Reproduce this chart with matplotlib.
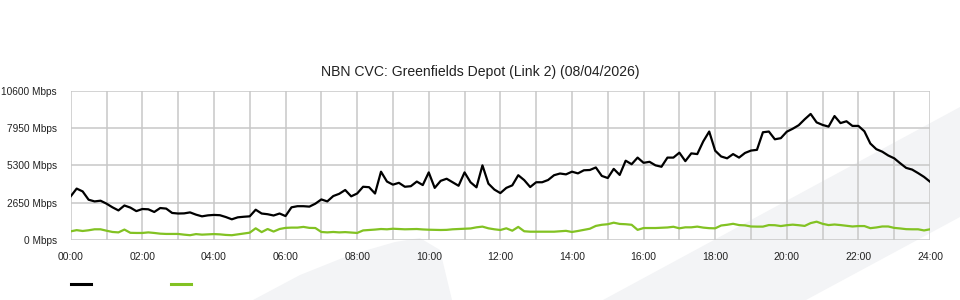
import numpy as np
import matplotlib
matplotlib.use("Agg")
import matplotlib.pyplot as plt
from matplotlib.patches import Polygon

plt.rcParams['font.family'] = ['Liberation Sans', 'DejaVu Sans']

# chart text
title = "NBN CVC: Greenfields Depot (Link 2) (08/04/2026)"
y_ticks = [0, 2650, 5300, 7950, 10600]
y_labels = ["0 Mbps", "2650 Mbps", "5300 Mbps", "7950 Mbps", "10600 Mbps"]
x_ticks = list(range(0, 25, 2))
x_labels = ["%02d:00" % h for h in x_ticks]

# samples every 10 minutes, 00:00 .. 24:00 (Mbps)
sample_minutes = 10
black_series = [
    3100, 3650, 3450, 2860, 2740, 2790, 2580, 2320, 2100, 2450,
    2300, 2050, 2200, 2180, 1990, 2270, 2230, 1920, 1880, 1890,
    1960, 1800, 1680, 1750, 1780, 1760, 1630, 1470, 1610, 1650,
    1680, 2150, 1880, 1830, 1740, 1880, 1700, 2320, 2400, 2400,
    2370, 2580, 2880, 2740, 3120, 3280, 3550, 3100, 3300, 3780,
    3750, 3300, 4850, 4150, 3930, 4060, 3780, 3820, 4150, 3900,
    4800, 3700, 4200, 4350, 4100, 3850, 4800, 4100, 3740, 5300,
    4000, 3580, 3330, 3700, 3880, 4600, 4250, 3760, 4100, 4100,
    4260, 4600, 4720, 4660, 4850, 4730, 4950, 4970, 5150, 4550,
    4400, 5050, 4620, 5630, 5380, 5850, 5480, 5550, 5300, 5200,
    5850, 5850, 6200, 5600, 6150, 6100, 7000, 7700, 6340, 5930,
    5800, 6100, 5850, 6180, 6350, 6400, 7650, 7700, 7150, 7230,
    7690, 7900, 8150, 8570, 8950, 8350, 8170, 8050, 8800, 8300,
    8430, 8100, 8100, 7720, 6850, 6450, 6270, 6000, 5800, 5450,
    5120, 5000, 4750, 4480, 4140,
]
green_series = [
    615, 700, 640, 690, 760, 760, 660, 570, 540, 740,
    510, 500, 500, 540, 500, 450, 430, 430, 430, 380,
    340, 420, 380, 400, 420, 400, 360, 340, 400, 460,
    520, 830, 560, 780, 600, 780, 860, 880, 880, 930,
    860, 850, 570, 540, 570, 540, 560, 530, 500, 680,
    710, 740, 780, 760, 800, 780, 760, 770, 780, 750,
    730, 720, 710, 720, 760, 780, 800, 820, 900, 950,
    830, 760, 710, 830, 660, 930, 620, 590, 590, 590,
    590, 590, 620, 650, 570, 640, 720, 800, 1000, 1080,
    1120, 1230, 1140, 1120, 1080, 720, 850, 850, 850, 870,
    890, 940, 830, 900, 900, 950, 880, 840, 830, 1030,
    1080, 1150, 1060, 1040, 960, 950, 950, 1060, 1050, 990,
    1050, 1090, 1050, 1000, 1200, 1300, 1150, 1060, 1100, 1060,
    1010, 960, 990, 990, 840, 890, 960, 960, 860, 820,
    770, 760, 760, 680, 760,
]

hours = np.arange(len(black_series)) * sample_minutes / 60.0

fig = plt.figure(figsize=(9.6, 3.0), dpi=100)
fig.patch.set_facecolor('white')

# faint background swooshes
wm = '#f3f4f6'
fig.add_artist(Polygon([(253/960, 0), (300/960, 25/300), (350/960, 45/300),
                        (395/960, 58/300), (420/960, 62/300), (440/960, 50/300),
                        (452/960, 0)], closed=True, transform=fig.transFigure,
                       facecolor=wm, edgecolor='none', zorder=0))
fig.add_artist(Polygon([(603/960, 0), (960/960, 193/300), (960/960, 83/300),
                        (806/960, 0)], closed=True, transform=fig.transFigure,
                       facecolor=wm, edgecolor='none', zorder=0))

ax = fig.add_axes([70.7/960, 0.2, (930 - 70.7)/960, (240 - 90.7)/300])
ax.patch.set_alpha(0)

ax.plot(hours, black_series, color='black', lw=1.6, zorder=3, solid_joinstyle='round')
ax.plot(hours, green_series, color='#82c223', lw=1.6, zorder=3, solid_joinstyle='round')

ax.set_xlim(0, 24)
ax.set_ylim(0, 10600)
ax.set_xticks(x_ticks)
ax.set_xticklabels(x_labels, fontsize=7.5, color='#222222')
ax.set_xticks(range(1, 24, 2), minor=True)
ax.set_yticks(y_ticks)
ax.set_yticklabels(y_labels, fontsize=7.3, color='#222222')
ax.tick_params(which='both', length=0)
ax.tick_params(axis='x', pad=9)
ax.tick_params(axis='y', pad=10)
ax.grid(True, which='both', color='#c8c8c8', lw=1.1, zorder=1)
for s in ax.spines.values():
    s.set_visible(False)

fig.text(0.5, 0.76, title, ha='center', va='center', fontsize=10.1, color='#222222')

# legend handles without labels
lh = [plt.Line2D([], [], color='black', lw=2.2),
      plt.Line2D([], [], color='#82c223', lw=2.2)]
fig.legend(lh, ['', ''], loc='center left', bbox_to_anchor=(62/960, 15/300),
           ncol=2, frameon=False, handlelength=1.9, handletextpad=0.0,
           columnspacing=7.7, fontsize=7.5)

fig.savefig('out.png', dpi=100, facecolor='white')
